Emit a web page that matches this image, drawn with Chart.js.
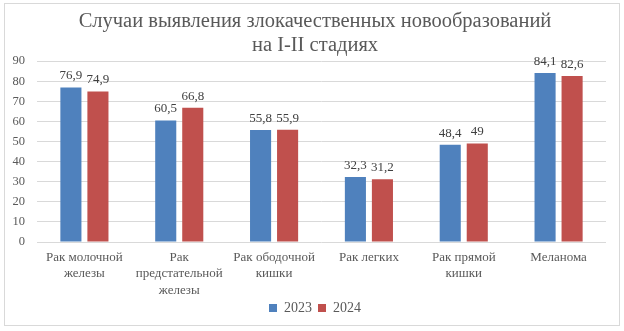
<!DOCTYPE html>
<html><head><meta charset="utf-8">
<script src="https://cdn.jsdelivr.net/npm/chart.js@4/dist/chart.umd.min.js"></script>
<style>html,body{margin:0;padding:0;background:#fff}#wrap{width:624px;height:331px;position:relative}</style>
</head><body><div id="wrap"><canvas id="c" width="624" height="331"></canvas></div>
<script>
const categories = [["Рак молочной","железы"],["Рак","предстательной","железы"],["Рак ободочной","кишки"],["Рак легких"],["Рак прямой","кишки"],["Меланома"]];
const values2023 = [76.9, 60.5, 55.8, 32.3, 48.4, 84.1];
const values2024 = [74.9, 66.8, 55.9, 31.2, 49, 82.6];
const seriesNames = ["2023", "2024"];
const yTicks = [0,10,20,30,40,50,60,70,80,90];
const titleLines = ["Случаи выявления злокачественных новообразований","на I-II стадиях"];

const FONT = "'Liberation Serif', serif";
const borderPlugin = {
  id: 'frame',
  beforeDraw(chart){
    const ctx = chart.ctx;
    ctx.save();
    ctx.fillStyle = '#fff';
    ctx.fillRect(0,0,chart.width,chart.height);
    ctx.strokeStyle = '#D9D9D9';
    ctx.lineWidth = 1;
    ctx.strokeRect(4.5,3.5,615,322);
    ctx.restore();
  }
};
const shiftPlugin = {
  id: 'shiftBoxes',
  afterLayout(chart){
    const dx = 12;
    [chart.titleBlock, chart.legend].forEach(b => { if (b) { b.left += dx; b.right += dx; } });
  }
};
const labelPlugin = {
  id: 'vlabels',
  afterDatasetsDraw(chart){
    const ctx = chart.ctx;
    ctx.save();
    ctx.font = "13px " + FONT;
    ctx.fillStyle = '#404040';
    ctx.textAlign = 'center';
    ctx.textBaseline = 'bottom';
    chart.data.datasets.forEach((ds, i) => {
      const meta = chart.getDatasetMeta(i);
      meta.data.forEach((el, j) => {
        const v = ds.data[j];
        ctx.fillText(String(v).replace('.', ','), el.x, el.y - 5);
      });
    });
    ctx.restore();
  }
};

new Chart(document.getElementById('c'), {
  type: 'bar',
  data: {
    labels: categories,
    datasets: [
      {label: seriesNames[0], data: values2023, backgroundColor: '#4F81BD', borderColor: '#4F81BD', borderWidth: 0},
      {label: seriesNames[1], data: values2024, backgroundColor: '#C0504D', borderColor: '#C0504D', borderWidth: 0}
    ]
  },
  options: {
    responsive: false,
    animation: false,
    devicePixelRatio: 1,
    layout: {padding: {left: 0, right: 18, top: 0, bottom: 6}},
    datasets: {bar: {categoryPercentage: 0.57, barPercentage: 0.78}},
    plugins: {
      title: {display: true, text: titleLines, color: '#595959', font: {family: FONT, size: 20.5, weight: 'normal', lineHeight: 1.2}, padding: {top: 9, bottom: 3}},
      legend: {position: 'bottom', labels: {boxWidth: 8, boxHeight: 8, color: '#595959', font: {family: FONT, size: 14}, padding: 6}},
      tooltip: {enabled: false}
    },
    scales: {
      x: {
        grid: {display: false, drawTicks: false},
        border: {display: false},
        ticks: {color: '#595959', font: {family: FONT, size: 13, lineHeight: 1.27}, maxRotation: 0, autoSkip: false, padding: 7},
        afterFit(s){ s.height = 53; }
      },
      y: {
        min: 0, max: 90,
        afterBuildTicks(s){ s.ticks = yTicks.map(v => ({value: v})); },
        grid: {color: '#D9D9D9', drawTicks: false},
        border: {display: false},
        ticks: {color: '#595959', font: {family: FONT, size: 12.5}, padding: 12},
        afterFit(s){ s.width = 37; }
      }
    }
  },
  plugins: [borderPlugin, shiftPlugin, labelPlugin]
});
</script></body></html>
